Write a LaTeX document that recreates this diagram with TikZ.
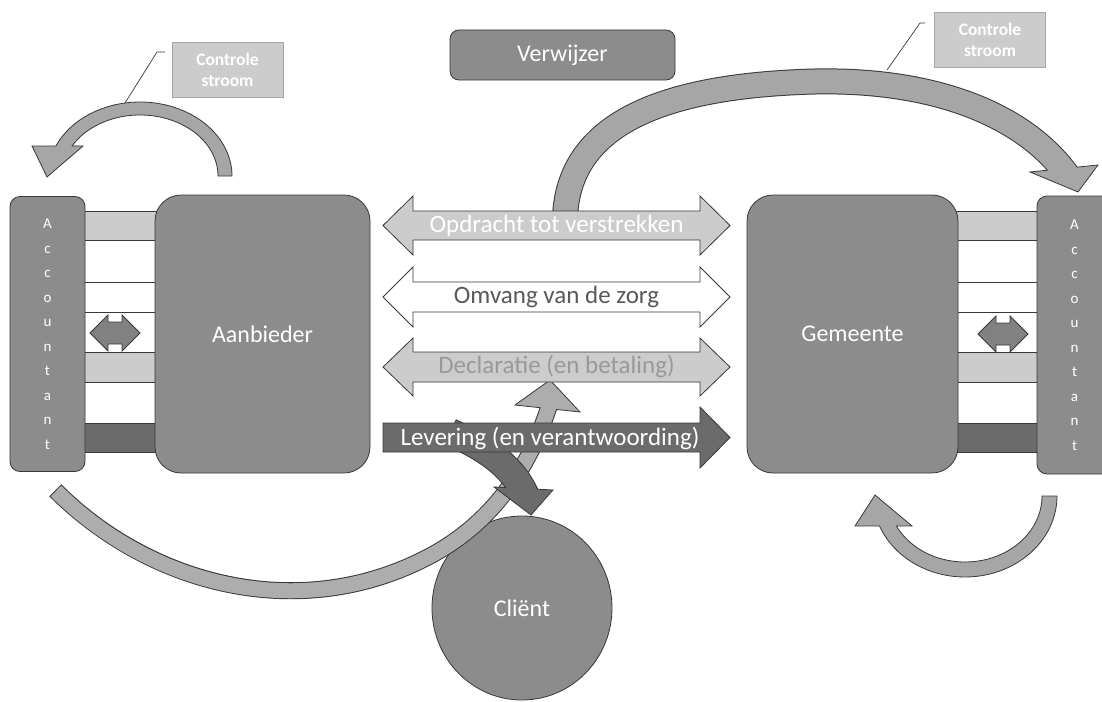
\documentclass[tikz,border=0pt]{standalone}
\usepackage{fontspec}
\setmainfont{Carlito}
\usetikzlibrary{shapes.geometric}
\definecolor{boxgray}{gray}{0.55}
\definecolor{lightfill}{gray}{0.80}
\definecolor{arcfill}{gray}{0.65}
\definecolor{arclight}{gray}{0.68}
\definecolor{darkfill}{gray}{0.42}
\definecolor{edgecol}{gray}{0.22}
\definecolor{decltext}{gray}{0.60}
\definecolor{omvtext}{gray}{0.35}
\begin{document}
\begin{tikzpicture}[x=1pt,y=-1pt,
  box/.style={rectangle, rounded corners=26pt, fill=boxgray, draw=edgecol, line width=0.8pt, text=white, inner sep=0pt, font=\fontsize{24}{28}\selectfont},
  acc/.style={box, rounded corners=10pt, align=center, font=\fontsize{15}{24.5}\selectfont},
  note/.style={rectangle, fill=lightfill, draw=gray!70, line width=0.4pt, text=white, align=center, inner sep=0pt, minimum width=111pt, minimum height=55pt, font=\bfseries\fontsize{17.5}{21}\selectfont},
  stripe/.style={draw=edgecol, line width=0.6pt},
  band/.style={draw=edgecol, line width=0.8pt},
  lbl/.style={inner sep=0pt, font=\fontsize{25}{29}\selectfont},
  callout/.style={draw=edgecol, line width=0.7pt},
]
\useasboundingbox (0,0) rectangle (1102,701);
\clip (0,0) rectangle (1102,701);

% stripes between accountants and main boxes
\foreach \ya/\yb/\c in {211/240/lightfill, 282/312/white, 352/382/lightfill, 423/452/darkfill} {
  \filldraw[stripe, fill=\c] (60,\ya) rectangle (180,\yb);
  \filldraw[stripe, fill=\c] (930,\ya) rectangle (1060,\yb);
}

% main boxes
\node[acc, minimum width=75, minimum height=275] (accL) at (47.5,334) {A\\c\\c\\o\\u\\n\\t\\a\\n\\t};
\node[box, minimum width=215, minimum height=278] (aanbieder) at (262.5,334) {Aanbieder};
\node[box, minimum width=211, minimum height=278] (gemeente) at (852.5,334) {Gemeente};
\node[acc, minimum width=75, minimum height=278] (accR) at (1074.5,335) {A\\c\\c\\o\\u\\n\\t\\a\\n\\t};

% small double arrows
\filldraw[band, fill=darkfill!85!white, shift={(115,333)}] (-25,0) -- (-7,-18) -- (-7,-11) -- (7,-11) -- (7,-18) -- (25,0) -- (7,18) -- (7,11) -- (-7,11) -- (-7,18) -- cycle;
\filldraw[band, fill=darkfill!85!white, shift={(1003,334)}] (-25,0) -- (-7,-18) -- (-7,-11) -- (7,-11) -- (7,-18) -- (25,0) -- (7,18) -- (7,11) -- (-7,11) -- (-7,18) -- cycle;

% Verwijzer
\node[box, rounded corners=9pt, minimum width=225, minimum height=50] (verwijzer) at (562.5,55) {Verwijzer};

% Controle stroom notes and callouts
\node[note] (csL) at (227.5,69.5) {Controle\\stroom};
\node[note] (csR) at (990,39.5) {Controle\\stroom};
\coordinate (cLa) at (165,52); \coordinate (cLb) at (157,52); \coordinate (cLc) at (125,103);
\coordinate (cRa) at (925,23); \coordinate (cRb) at (920,23); \coordinate (cRc) at (887,70);
\draw[callout] (cLa) -- (cLb) -- (cLc);
\draw[callout] (cRa) -- (cRb) -- (cRc);

% Client
\node[ellipse, fill=boxgray, draw=edgecol, line width=0.8pt, minimum width=180, minimum height=184, inner sep=0pt, text=white, font=\fontsize{24}{28}\selectfont] (client) at (522,608) {Cliënt};

% top-left control arc
\filldraw[band, fill=arcfill] plot[domain=0:-156.1, samples=60] ({140+92*cos(\x)},{176+74*sin(\x)}) -- (32,146) -- (47,177) -- (83,146) -- plot[domain=-150.5:0, samples=60] ({140+78*cos(\x)},{176+61*sin(\x)}) -- cycle;

% bottom-right control arc
\filldraw[band, fill=arcfill] plot[domain=0:158.3, samples=60] ({965+92*cos(\x)},{496+81*sin(\x)}) -- (855,526) -- (875,495) -- (912,526) -- plot[domain=153:0, samples=60] ({965+77*cos(\x)},{496+66*sin(\x)}) -- cycle;

% big top arc (Opdracht -> accountant gemeente)
\draw[edgecol, line width=26pt] (565,218) .. controls (568,125) and (660,88) .. (800,82) .. controls (930,76) and (1024,114) .. (1068,176);
\filldraw[band, fill=arcfill] (1030,172) -- (1098,165) -- (1078,192) -- cycle;
\draw[arcfill, line width=24pt] (565,218) .. controls (568,125) and (660,88) .. (800,82) .. controls (930,76) and (1024,114) .. (1068,176);

% bottom-left long arc (to Declaratie)
\draw[edgecol, line width=17pt, shorten <=-1pt] (56,491) .. controls (150,585) and (300,625) .. (430,556) .. controls (490,524) and (530,470) .. (551,400);
\filldraw[band, fill=arclight] (515,405) -- (550,380) -- (580,412) -- cycle;
\draw[arclight, line width=15pt] (56,491) .. controls (150,585) and (300,625) .. (430,556) .. controls (490,524) and (530,470) .. (551,400);

% dark delivery arrow to client
\draw[edgecol, line width=28pt] (450,432) .. controls (485,448) and (512,465) .. (526,496);
\filldraw[band, fill=darkfill] (494,487) -- (553,490) -- (531,515) -- cycle;
\draw[darkfill, line width=26pt] (450,432) .. controls (485,448) and (512,465) .. (526,496);

% middle arrows
\filldraw[band, fill=lightfill] (383,225.5) -- (413,196) -- (413,211) -- (700,211) -- (700,196) -- (730,225.5) -- (700,255) -- (700,240) -- (413,240) -- (413,255) -- cycle;
\filldraw[band, fill=white] (383,297) -- (413,267) -- (413,282) -- (700,282) -- (700,267) -- (730,297) -- (700,327) -- (700,312) -- (413,312) -- (413,327) -- cycle;
\filldraw[band, fill=lightfill] (383,367) -- (413,338) -- (413,352) -- (700,352) -- (700,338) -- (730,367) -- (700,396) -- (700,382) -- (413,382) -- (413,396) -- cycle;
\filldraw[band, fill=darkfill] (383,423) -- (700,423) -- (700,407) -- (730,437.5) -- (700,468) -- (700,452) -- (383,452) -- cycle;

\node[lbl, text=white] (opdracht) at (556.5,226) {Opdracht tot verstrekken};
\node[lbl, text=omvtext] (omvang) at (556.5,297) {Omvang van de zorg};
\node[lbl, text=decltext] (declaratie) at (556.5,367) {Declaratie (en betaling)};
\node[lbl, text=white] (levering) at (550,438) {Levering (en verantwoording)};
\end{tikzpicture}
\end{document}
